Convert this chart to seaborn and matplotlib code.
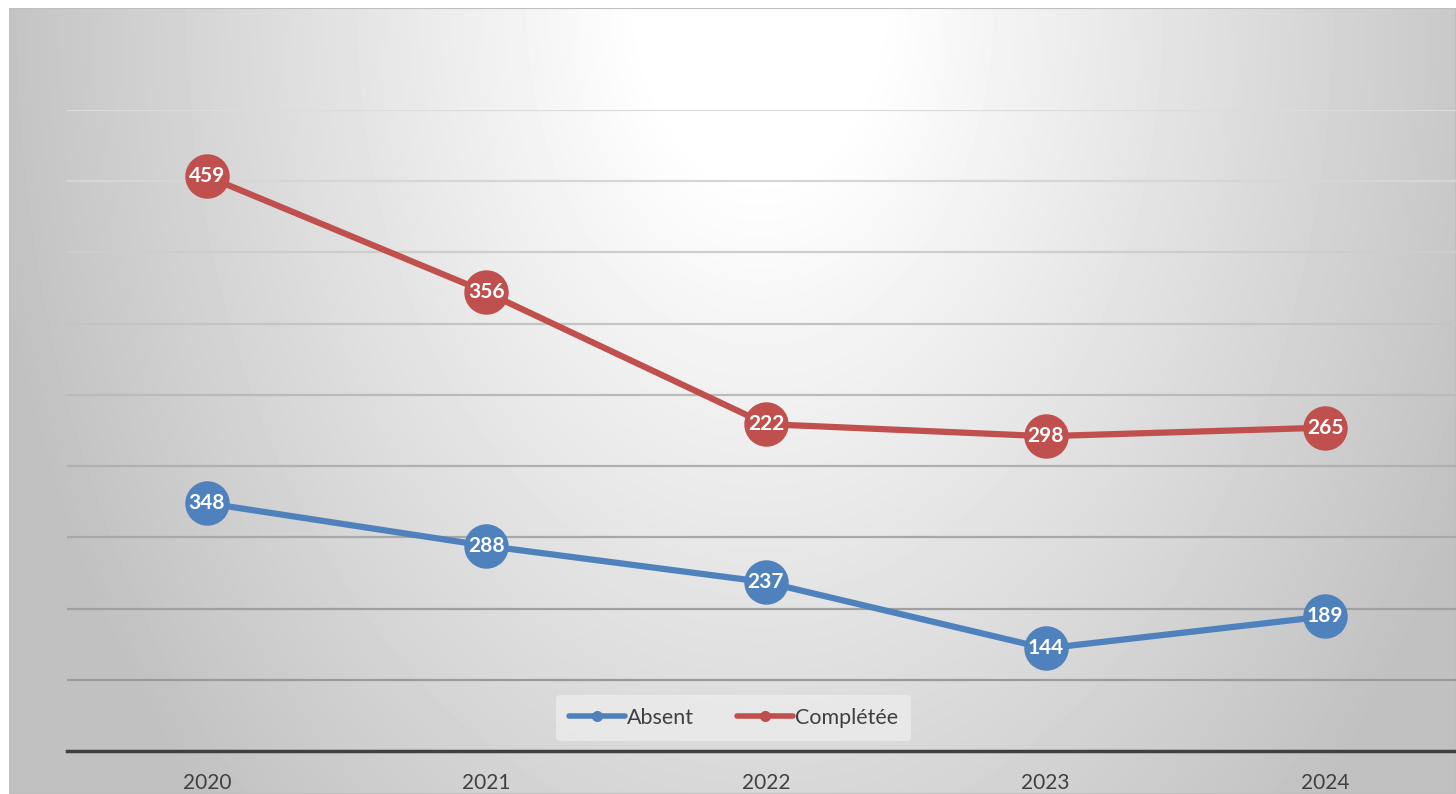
import numpy as np
import pandas as pd
import matplotlib
matplotlib.use("Agg")
import matplotlib.pyplot as plt
from matplotlib.lines import Line2D
import seaborn as sns

sns.set_theme(style="white")
plt.rcParams['font.family'] = ['Lato', 'DejaVu Sans']

# data (stacked line chart)
years = ["2020", "2021", "2022", "2023", "2024"]
absent = [348, 288, 237, 144, 189]
completee = [459, 356, 222, 298, 265]
series_names = ["Absent", "Complétée"]
colors = {"Absent": "#4F81BD", "Complétée": "#C0504D"}

stack_abs = np.array(absent)
stack_comp = stack_abs + np.array(completee)

df = pd.DataFrame({
    "x": list(range(len(years))) * 2,
    "y": list(stack_abs) + list(stack_comp),
    "label": absent + completee,
    "serie": ["Absent"] * len(years) + ["Complétée"] * len(years),
})

W, H = 1456, 794
fig = plt.figure(figsize=(W / 100, H / 100), dpi=100)
fig.patch.set_facecolor("white")

# chart area background with a soft radial gradient
bg = fig.add_axes([9 / W, 0, 1 - 9 / W, (H - 8) / H])
gx, gy = np.meshgrid(np.linspace(9, W, 400), np.linspace(8, H, 220))
t = np.sqrt(((gx - 760) / 780) ** 2 + (gy / 1150) ** 2)
shade = 255 - 62 * np.clip((t - 0.15) / 0.85, 0, 1)
bg.imshow(shade, cmap="gray", vmin=0, vmax=255, aspect="auto",
          extent=[0, 1, 0, 1], interpolation="bilinear")
bg.set_axis_off()
bg.add_patch(plt.Rectangle((0, 0), 1, 1, transform=bg.transAxes, fill=False,
                           edgecolor="#bfbfbf", lw=1.5))

ax = fig.add_axes([67 / W, (H - 751) / H, (1465 - 67) / W, (751 - 110) / H])
ax.set_facecolor("none")

sns.lineplot(data=df, x="x", y="y", hue="serie", palette=colors,
             marker="o", markersize=32, linewidth=4.5, markeredgewidth=0,
             ax=ax, legend=False, zorder=3)

for _, r in df.iterrows():
    ax.text(r["x"], r["y"], str(r["label"]), ha="center", va="center",
            color="white", fontsize=15, fontweight="bold", zorder=5)

ax.set_xlim(-0.5, len(years) - 0.5)
ax.set_ylim(0, 900)
ax.set_yticks(np.arange(100, 901, 100))
ax.set_yticklabels([])
ax.tick_params(axis="y", length=0)
ax.yaxis.grid(True, linewidth=1.6)
grid_cols = ["#9a9a9a", "#a0a0a0", "#a8a8a8", "#b0b0b0", "#bababa",
             "#c4c4c4", "#cdcdcd", "#d6d6d6", "#dcdcdc"]
for gl, c in zip(ax.get_ygridlines(), grid_cols):
    gl.set_color(c)
ax.set_axisbelow(True)

ax.set_xticks(range(len(years)))
ax.set_xticklabels(years, fontsize=15, color="#404040")
ax.tick_params(axis="x", length=0, pad=16)
ax.set_xlabel("")
ax.set_ylabel("")
for s in ["top", "right", "left"]:
    ax.spines[s].set_visible(False)
ax.spines["bottom"].set_color("#404040")
ax.spines["bottom"].set_linewidth(2.5)

handles = [Line2D([0], [0], color=colors[n], lw=4, marker="o", markersize=7)
           for n in series_names]
leg = ax.legend(handles, series_names, loc="center", bbox_to_anchor=(0.477, 0.0515),
                ncol=2, fontsize=15.5, frameon=True, handlelength=2.6,
                handletextpad=0.1, columnspacing=2.0, borderpad=0.6,
                borderaxespad=0)
leg.get_frame().set_facecolor("#ececec")
leg.get_frame().set_edgecolor("none")
leg.get_frame().set_alpha(0.8)
for txt in leg.get_texts():
    txt.set_color("#404040")

fig.savefig("out.png", dpi=100)
